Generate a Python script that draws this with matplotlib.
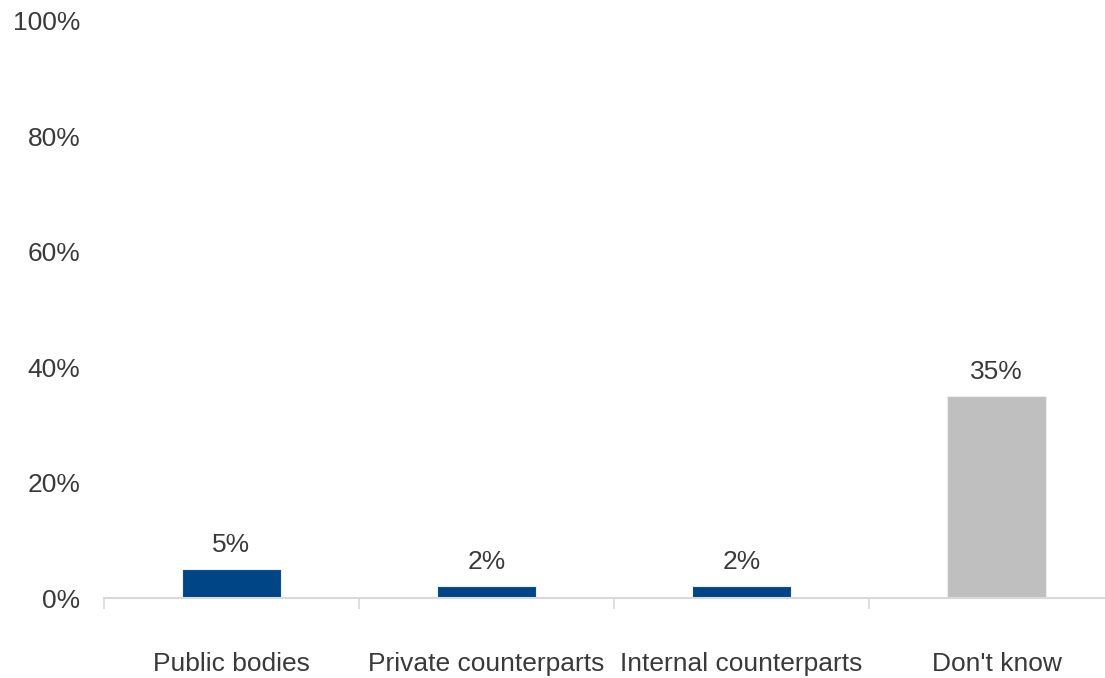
import numpy as np
import matplotlib.pyplot as plt
from matplotlib.ticker import FixedLocator

plt.rcParams['font.family'] = ['Liberation Sans', 'DejaVu Sans']

# Antworten in Prozent
categories = ['Public bodies', 'Private counterparts', 'Internal counterparts', "Don't know"]
values = [5, 2, 2, 35]
colors = ['#004586', '#004586', '#004586', '#BFBFBF']

text_color = '#3A3A3A'
axis_color = '#D9D9D9'

fig = plt.figure(figsize=(11.05, 6.78), dpi=100)
ax = fig.add_axes([104 / 1105, 1 - 598 / 678, 1020 / 1105, 577 / 678])

x = np.arange(len(categories))
bars = ax.bar(x, values, width=0.385, color=colors, edgecolor='#EEEEEE', linewidth=0.8)

# Werte über den Balken
for xi, v in zip(x, values):
    ax.annotate(f'{v}%', (xi, v), xytext=(0, 9), textcoords='offset points',
                ha='center', va='bottom', fontsize=19, color=text_color)

ax.set_xlim(-0.5, 3.5)
ax.set_ylim(0, 100)
ax.set_yticks(np.arange(0, 101, 20))
ax.set_yticklabels([f'{t}%' for t in range(0, 101, 20)])
ax.tick_params(axis='y', length=0, pad=17, labelsize=19, labelcolor=text_color)

ax.set_xticks(x)
ax.set_xticklabels(categories)
ax.tick_params(axis='x', which='major', length=0, pad=39, labelsize=19, labelcolor=text_color)
ax.xaxis.set_minor_locator(FixedLocator(np.arange(-0.5, 4, 1)))
ax.tick_params(axis='x', which='minor', length=8, width=1.2, color=axis_color)

for side in ['top', 'right', 'left']:
    ax.spines[side].set_visible(False)
ax.spines['bottom'].set_color(axis_color)
ax.spines['bottom'].set_linewidth(1.5)

fig.savefig('out.png', dpi=100)
